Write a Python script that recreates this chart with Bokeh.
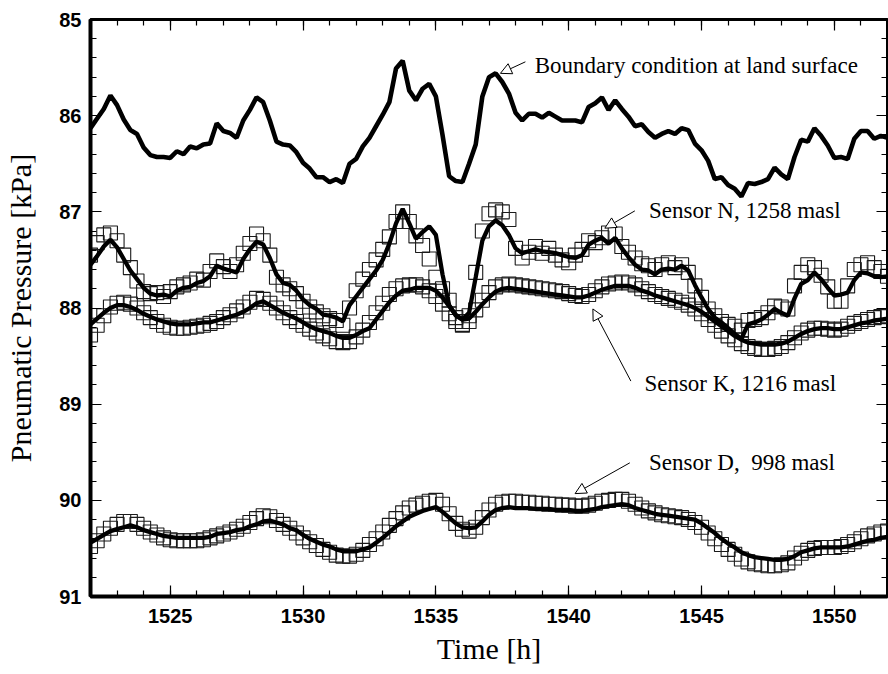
import numpy as np
from bokeh.plotting import figure
from bokeh.models import (Range1d, SingleIntervalTicker, LinearAxis, Label, Arrow,
                          NormalHead, ColumnDataSource, CustomJSTickFormatter)
from bokeh.embed import file_html
from bokeh.resources import INLINE

# ---- data ----
t_start = 1522.0
t_step = 0.25

boundary = [86.13, 86.03, 85.93, 85.79, 85.89, 86.04, 86.15, 86.19, 86.33, 86.41,
            86.43, 86.43, 86.44, 86.37, 86.40, 86.32, 86.34, 86.30, 86.29, 86.08,
            86.16, 86.18, 86.23, 86.05, 85.94, 85.81, 85.86, 86.05, 86.27, 86.30,
            86.31, 86.38, 86.49, 86.55, 86.64, 86.64, 86.69, 86.66, 86.70, 86.50,
            86.45, 86.32, 86.23, 86.11, 85.99, 85.86, 85.51, 85.43, 85.74, 85.84,
            85.72, 85.67, 85.80, 86.20, 86.63, 86.68, 86.69, 86.50, 86.30, 85.80,
            85.60, 85.56, 85.65, 85.77, 85.97, 86.05, 85.98, 85.98, 86.02, 85.97,
            86.01, 86.05, 86.05, 86.05, 86.07, 85.91, 85.87, 85.81, 85.94, 85.84,
            85.93, 86.01, 86.11, 86.09, 86.17, 86.23, 86.19, 86.16, 86.19, 86.13,
            86.15, 86.29, 86.36, 86.47, 86.66, 86.64, 86.72, 86.76, 86.84, 86.70,
            86.71, 86.69, 86.66, 86.54, 86.61, 86.66, 86.43, 86.25, 86.27, 86.13,
            86.21, 86.31, 86.44, 86.43, 86.45, 86.24, 86.16, 86.16, 86.24, 86.21,
            86.23]

sensor_n_model = [87.55, 87.46, 87.36, 87.29, 87.37, 87.49, 87.61, 87.70, 87.79, 87.85,
                  87.87, 87.86, 87.88, 87.82, 87.79, 87.78, 87.74, 87.72, 87.67, 87.56,
                  87.59, 87.61, 87.63, 87.49, 87.39, 87.31, 87.34, 87.48, 87.65, 87.74,
                  87.76, 87.82, 87.91, 87.97, 88.01, 88.07, 88.08, 88.10, 88.14, 87.97,
                  87.88, 87.79, 87.70, 87.61, 87.50, 87.33, 87.12, 86.97, 87.12, 87.28,
                  87.21, 87.15, 87.24, 87.65, 87.97, 88.08, 88.12, 88.05, 87.68, 87.30,
                  87.15, 87.09, 87.14, 87.24, 87.38, 87.43, 87.41, 87.39, 87.41, 87.42,
                  87.43, 87.45, 87.47, 87.48, 87.45, 87.34, 87.30, 87.27, 87.33, 87.27,
                  87.38, 87.47, 87.55, 87.60, 87.61, 87.65, 87.60, 87.59, 87.60, 87.56,
                  87.61, 87.76, 87.89, 88.01, 88.10, 88.15, 88.21, 88.27, 88.32, 88.17,
                  88.15, 88.12, 88.07, 88.01, 88.05, 88.08, 87.90, 87.75, 87.71, 87.63,
                  87.70, 87.79, 87.87, 87.86, 87.84, 87.71, 87.63, 87.64, 87.67, 87.68,
                  87.67]

sensor_n_meas = [87.45, 87.32, 87.24, 87.22, 87.30, 87.45, 87.58, 87.72, 87.83, 87.85,
                 87.84, 87.88, 87.83, 87.78, 87.76, 87.74, 87.70, 87.71, 87.62, 87.51,
                 87.57, 87.62, 87.55, 87.43, 87.33, 87.23, 87.30, 87.45, 87.68, 87.76,
                 87.80, 87.85, 87.93, 87.99, 88.04, 88.08, 88.11, 88.13, 88.18, 88.00,
                 87.82, 87.70, 87.60, 87.50, 87.39, 87.26, 87.10, 87.00, 87.10, 87.25,
                 87.35, 87.49, 87.68, 87.80, 87.92, 88.10, 88.17, 88.08, 87.63, 87.20,
                 87.02, 86.98, 87.00, 87.08, 87.38, 87.48, 87.42, 87.36, 87.43, 87.38,
                 87.45, 87.50, 87.53, 87.45, 87.39, 87.30, 87.32, 87.27, 87.22, 87.23,
                 87.36, 87.42, 87.48, 87.54, 87.56, 87.60, 87.55, 87.53, 87.58, 87.55,
                 87.63, 87.77, 87.89, 88.01, 88.08, 88.14, 88.17, 88.19, 88.23, 88.13,
                 88.12, 88.10, 88.05, 87.98, 87.99, 88.01, 87.77, 87.63, 87.55, 87.58,
                 87.66, 87.78, 87.93, 87.93, 87.77, 87.60, 87.55, 87.53, 87.58, 87.62,
                 87.67]

sensor_k_model = [88.17, 88.11, 88.05, 88.00, 87.97, 87.97, 87.99, 88.02, 88.06, 88.09,
                  88.12, 88.14, 88.16, 88.17, 88.17, 88.17, 88.16, 88.15, 88.15, 88.13,
                  88.11, 88.09, 88.07, 88.04, 88.00, 87.95, 87.93, 87.97, 88.01, 88.05,
                  88.08, 88.11, 88.15, 88.19, 88.22, 88.24, 88.26, 88.29, 88.31, 88.31,
                  88.28, 88.24, 88.21, 88.12, 88.03, 87.94, 87.87, 87.82, 87.81, 87.79,
                  87.79, 87.79, 87.82, 87.89, 87.98, 88.07, 88.12, 88.11, 88.04, 87.96,
                  87.89, 87.83, 87.80, 87.79, 87.80, 87.81, 87.82, 87.83, 87.84, 87.85,
                  87.86, 87.87, 87.88, 87.89, 87.89, 87.87, 87.84, 87.81, 87.79, 87.77,
                  87.77, 87.77, 87.79, 87.82, 87.84, 87.87, 87.89, 87.91, 87.93, 87.95,
                  87.97, 88.00, 88.04, 88.09, 88.14, 88.19, 88.24, 88.29, 88.33, 88.36,
                  88.37, 88.38, 88.38, 88.38, 88.37, 88.35, 88.31, 88.27, 88.24, 88.22,
                  88.21, 88.21, 88.22, 88.22, 88.20, 88.18, 88.16, 88.15, 88.13, 88.12,
                  88.11]

sensor_k_meas = [88.28, 88.18, 88.08, 87.99, 87.95, 87.94, 87.96, 88.00, 88.05, 88.10,
                 88.14, 88.18, 88.20, 88.21, 88.21, 88.20, 88.19, 88.18, 88.16, 88.14,
                 88.10, 88.07, 88.03, 87.99, 87.94, 87.90, 87.91, 87.95, 88.00, 88.05,
                 88.10, 88.14, 88.18, 88.22, 88.26, 88.29, 88.32, 88.35, 88.36, 88.35,
                 88.30, 88.23, 88.15, 88.05, 87.95, 87.86, 87.80, 87.77, 87.76, 87.76,
                 87.78, 87.82, 87.88, 87.96, 88.06, 88.14, 88.18, 88.14, 88.02, 87.92,
                 87.84, 87.78, 87.76, 87.75, 87.76, 87.77, 87.78, 87.79, 87.80, 87.81,
                 87.82, 87.83, 87.85, 87.87, 87.88, 87.86, 87.82, 87.78, 87.75, 87.74,
                 87.73, 87.74, 87.76, 87.80, 87.83, 87.86, 87.88, 87.90, 87.92, 87.94,
                 87.97, 88.01, 88.06, 88.12, 88.18, 88.24, 88.29, 88.33, 88.37, 88.40,
                 88.42, 88.43, 88.43, 88.42, 88.40, 88.36, 88.31, 88.26, 88.23, 88.21,
                 88.21, 88.22, 88.23, 88.22, 88.19, 88.16, 88.14, 88.12, 88.10, 88.09,
                 88.08]

sensor_d_model = [90.44, 90.40, 90.36, 90.32, 90.30, 90.28, 90.26, 90.28, 90.31, 90.33,
                  90.35, 90.37, 90.38, 90.39, 90.39, 90.39, 90.39, 90.39, 90.38, 90.35,
                  90.34, 90.33, 90.31, 90.30, 90.27, 90.25, 90.22, 90.21, 90.23, 90.25,
                  90.29, 90.31, 90.36, 90.40, 90.43, 90.46, 90.48, 90.51, 90.53, 90.53,
                  90.53, 90.51, 90.49, 90.44, 90.39, 90.33, 90.27, 90.22, 90.17, 90.14,
                  90.11, 90.09, 90.07, 90.12, 90.18, 90.24, 90.28, 90.29, 90.28, 90.22,
                  90.15, 90.10, 90.08, 90.07, 90.08, 90.08, 90.08, 90.09, 90.09, 90.09,
                  90.10, 90.10, 90.10, 90.11, 90.11, 90.10, 90.09, 90.07, 90.06, 90.05,
                  90.04, 90.05, 90.08, 90.10, 90.12, 90.14, 90.15, 90.16, 90.17, 90.18,
                  90.19, 90.20, 90.24, 90.29, 90.34, 90.40, 90.45, 90.49, 90.54, 90.57,
                  90.59, 90.60, 90.61, 90.62, 90.62, 90.61, 90.58, 90.54, 90.52, 90.50,
                  90.49, 90.49, 90.49, 90.49, 90.48, 90.46, 90.44, 90.42, 90.41, 90.39,
                  90.38]

sensor_d_meas = [90.48, 90.42, 90.35, 90.29, 90.25, 90.22, 90.22, 90.25, 90.29, 90.33,
                 90.36, 90.39, 90.41, 90.42, 90.42, 90.42, 90.42, 90.41, 90.39, 90.37,
                 90.35, 90.33, 90.30, 90.27, 90.23, 90.19, 90.16, 90.17, 90.21, 90.25,
                 90.29, 90.34, 90.39, 90.43, 90.47, 90.51, 90.54, 90.57, 90.58, 90.58,
                 90.56, 90.52, 90.46, 90.40, 90.33, 90.26, 90.19, 90.13, 90.08, 90.05,
                 90.03, 90.01, 90.00, 90.04, 90.14, 90.24, 90.30, 90.32, 90.28, 90.18,
                 90.10, 90.04, 90.02, 90.01, 90.01, 90.02, 90.02, 90.03, 90.03, 90.04,
                 90.04, 90.05, 90.05, 90.06, 90.06, 90.05, 90.03, 90.01, 90.00, 89.99,
                 89.99, 90.01, 90.04, 90.08, 90.11, 90.13, 90.15, 90.16, 90.17, 90.18,
                 90.20, 90.23, 90.28, 90.34, 90.40, 90.46, 90.51, 90.56, 90.61, 90.64,
                 90.66, 90.67, 90.68, 90.68, 90.67, 90.65, 90.60, 90.55, 90.52, 90.50,
                 90.49, 90.49, 90.49, 90.48, 90.46, 90.43, 90.40, 90.37, 90.35, 90.33,
                 90.32]

# annotations: text, x, y (data units) and arrow start/end (data units)
ann_text = ["Boundary condition at land surface", "Sensor N, 1258 masl",
            "Sensor K, 1216 masl", "Sensor D,\u00a0 998 masl"]
ann_x = [1538.72, 1543.02, 1542.85, 1543.02]
ann_y = [85.48, 86.99, 88.78, 89.61]
arr_x0 = [1538.37, 1542.49, 1542.34, 1542.30]
arr_y0 = [85.44, 86.99, 88.76, 89.61]
arr_x1 = [1537.43, 1541.36, 1540.91, 1540.24]
arr_y1 = [85.56, 87.17, 88.01, 89.93]

t = t_start + t_step * np.arange(len(boundary))

src = ColumnDataSource(dict(t=t, b=boundary, nm=sensor_n_model, ns=sensor_n_meas,
                            km=sensor_k_model, ks=sensor_k_meas,
                            dm=sensor_d_model, ds=sensor_d_meas))

SERIF = "Liberation Serif"
SANS = "Liberation Sans"

p = figure(width=888, height=674, output_backend="svg", toolbar_location=None,
           x_range=Range1d(1522, 1552), y_range=Range1d(91, 85),
           min_border_left=90, min_border_right=1, min_border_top=19,
           min_border_bottom=78)
p.xgrid.visible = False
p.ygrid.visible = False
p.outline_line_color = "black"
p.outline_line_width = 3
p.background_fill_color = "white"

# markers first, lines on top
for col in ["ns", "ks", "ds"]:
    p.scatter("t", col, source=src, marker="square", size=14, fill_color=None,
              line_color="#1a1a1a", line_width=1.1)
p.line("t", "b", source=src, line_color="black", line_width=4.6)
for col in ["nm", "km", "dm"]:
    p.line("t", col, source=src, line_color="black", line_width=4.3)

def style_axis(ax, show_labels):
    ax.major_tick_in = 11
    ax.major_tick_out = 0
    ax.minor_tick_in = 6
    ax.minor_tick_out = 0
    ax.major_tick_line_width = 1.2
    ax.minor_tick_line_width = 1.2
    ax.axis_line_width = 4
    ax.axis_line_color = "black"
    if show_labels:
        ax.major_label_text_font = SANS
        ax.major_label_text_font_size = "20px"
        ax.major_label_text_font_style = "bold"
        ax.major_label_text_color = "black"
    else:
        ax.formatter = CustomJSTickFormatter(code="return ''")
        ax.major_label_standoff = 0

xt = SingleIntervalTicker(interval=5, num_minor_ticks=5)
yt = SingleIntervalTicker(interval=1, num_minor_ticks=5)

p.xaxis.ticker = xt
p.yaxis.ticker = yt
style_axis(p.xaxis[0], True)
style_axis(p.yaxis[0], True)
p.xaxis.major_label_standoff = 12
p.yaxis.major_label_standoff = 9

p.xaxis.axis_label = "Time [h]"
p.yaxis.axis_label = "Pneumatic Pressure [kPa]"
for ax in (p.xaxis[0], p.yaxis[0]):
    ax.axis_label_text_font = SERIF
    ax.axis_label_text_font_size = "30px"
    ax.axis_label_text_font_style = "normal"
    ax.axis_label_text_color = "black"
p.xaxis.axis_label_standoff = 6
p.yaxis.axis_label_standoff = 19

top = LinearAxis(ticker=SingleIntervalTicker(interval=5, num_minor_ticks=5))
style_axis(top, False)
top.axis_line_width = 3
p.add_layout(top, "above")
right = LinearAxis(ticker=SingleIntervalTicker(interval=1, num_minor_ticks=5))
style_axis(right, False)
right.axis_line_width = 2
p.add_layout(right, "right")

for txt, x, y in zip(ann_text, ann_x, ann_y):
    p.add_layout(Label(x=x, y=y, text=txt, text_font=SERIF, text_font_size="23px",
                       text_baseline="middle", text_align="left", text_color="black"))

for x0, y0, x1, y1 in zip(arr_x0, arr_y0, arr_x1, arr_y1):
    p.add_layout(Arrow(end=NormalHead(size=11, fill_color="white", line_color="black",
                                      line_width=1),
                       x_start=x0, y_start=y0, x_end=x1, y_end=y1,
                       line_color="black", line_width=1))

open("out.html", "w").write(file_html(p, INLINE))
